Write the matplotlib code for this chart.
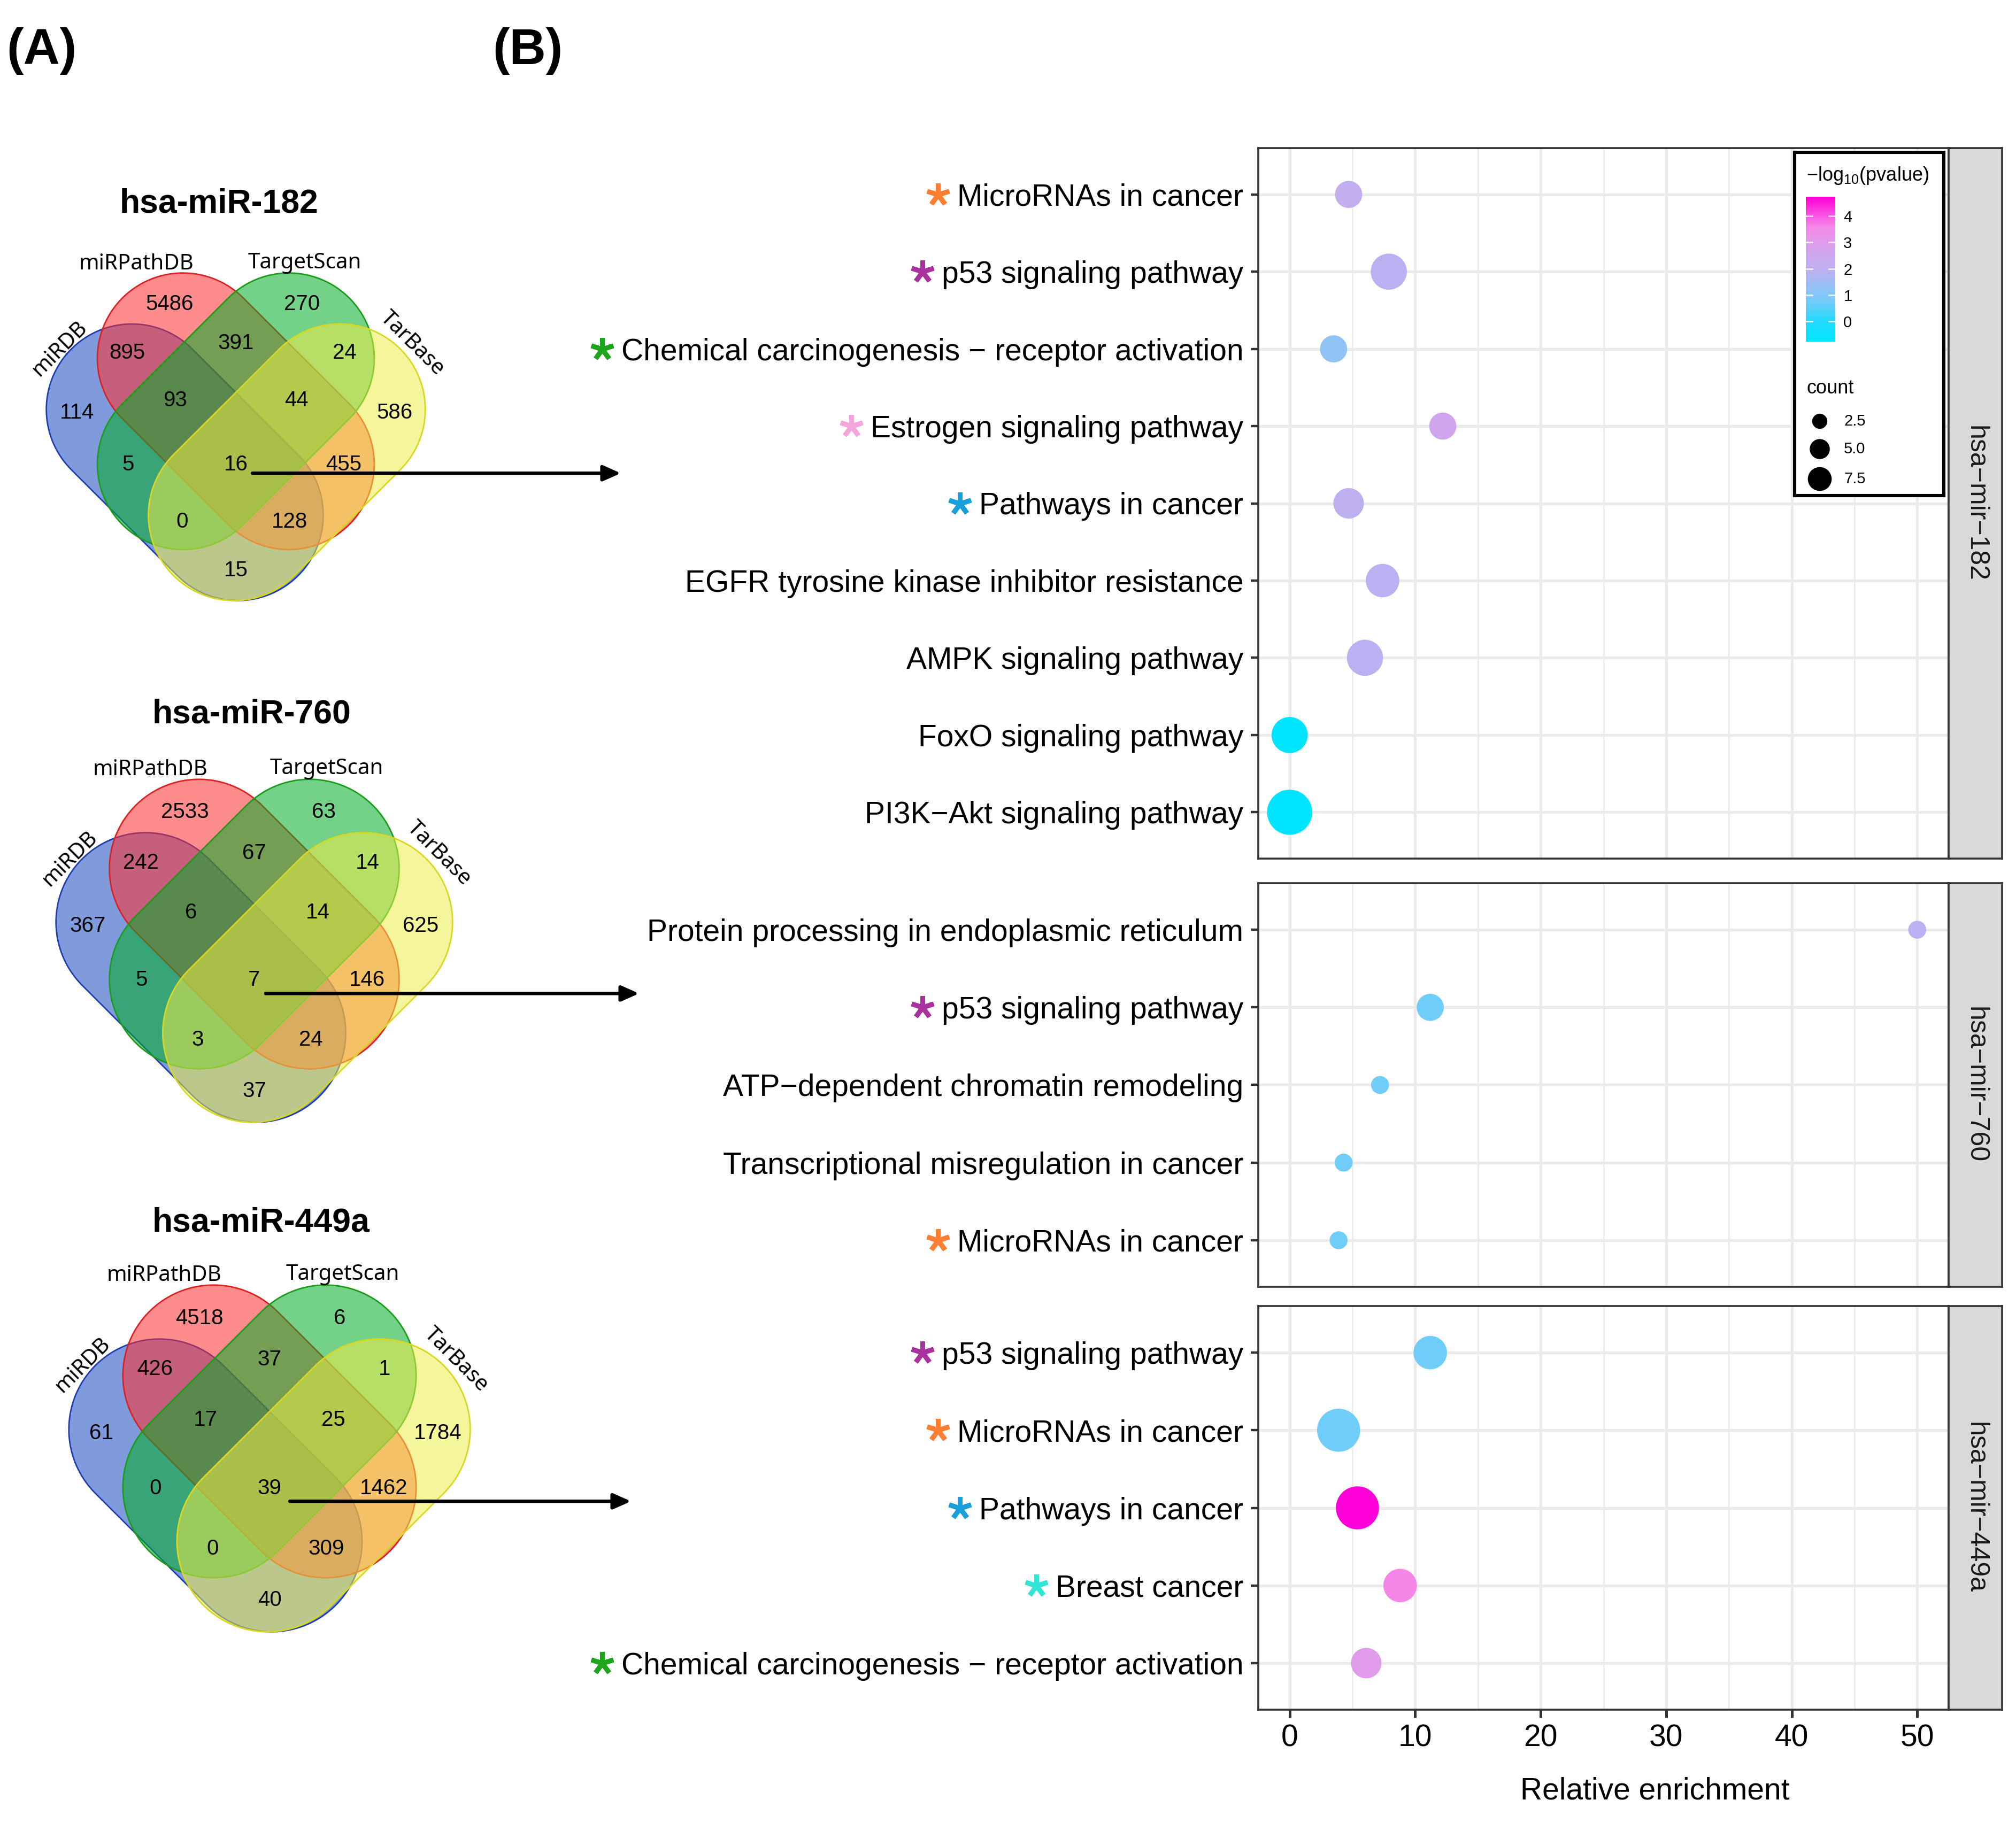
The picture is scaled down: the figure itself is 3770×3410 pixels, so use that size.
import numpy as np
import matplotlib
matplotlib.use("Agg")
import matplotlib.pyplot as plt
from matplotlib.patches import Polygon
from matplotlib.colors import LinearSegmentedColormap, Normalize
from matplotlib.cm import ScalarMappable

W, H, DPI = 3770, 3410, 200
plt.rcParams['font.family'] = ['Liberation Sans', 'DejaVu Sans']
plt.rcParams['mathtext.fontset'] = 'custom'
plt.rcParams['mathtext.rm'] = 'Liberation Sans'
plt.rcParams['mathtext.default'] = 'regular'

# ---------------- panel A: Venn counts ----------------
set_names = ["miRDB", "miRPathDB", "TargetScan", "TarBase"]
venn_titles = ["hsa-miR-182", "hsa-miR-760", "hsa-miR-449a"]
# region order (D=miRDB, P=miRPathDB, T=TargetScan, B=TarBase):
# P, T, DP, PT, TB, D, DPT, PTB, B, DT, DPTB, PB, DTB, DPB, DB
venn_182 = [5486, 270, 895, 391, 24, 114, 93, 44, 586, 5, 16, 455, 0, 128, 15]
venn_760 = [2533, 63, 242, 67, 14, 367, 6, 14, 625, 5, 7, 146, 3, 24, 37]
venn_449a = [4518, 6, 426, 37, 1, 61, 17, 25, 1784, 0, 39, 1462, 0, 309, 40]

# ---------------- panel B: enrichment ----------------
facet_labels = ["hsa\u2212mir\u2212182", "hsa\u2212mir\u2212760", "hsa\u2212mir\u2212449a"]

terms_182 = ["MicroRNAs in cancer", "p53 signaling pathway",
             "Chemical carcinogenesis \u2212 receptor activation", "Estrogen signaling pathway",
             "Pathways in cancer", "EGFR tyrosine kinase inhibitor resistance",
             "AMPK signaling pathway", "FoxO signaling pathway", "PI3K\u2212Akt signaling pathway"]
enrich_182 = [4.7, 7.9, 3.5, 12.2, 4.7, 7.4, 6.0, 0.0, 0.0]
logp_182 = [2.1, 1.9, 1.2, 2.6, 2.0, 1.9, 1.9, -0.75, -0.77]
count_182 = [3, 6, 3, 3, 4, 5, 6, 6, 10]

terms_760 = ["Protein processing in endoplasmic reticulum", "p53 signaling pathway",
             "ATP\u2212dependent chromatin remodeling", "Transcriptional misregulation in cancer",
             "MicroRNAs in cancer"]
enrich_760 = [50.0, 11.2, 7.2, 4.3, 3.9]
logp_760 = [1.9, 0.7, 0.7, 0.7, 0.7]
count_760 = [1, 3, 1, 1, 1]

terms_449a = ["p53 signaling pathway", "MicroRNAs in cancer", "Pathways in cancer",
              "Breast cancer", "Chemical carcinogenesis \u2212 receptor activation"]
enrich_449a = [11.2, 3.9, 5.4, 8.8, 6.1]
logp_449a = [0.7, 0.7, 4.73, 3.6, 3.0]
count_449a = [5, 9, 9, 5, 4]

# starred pathways
star_terms = ["MicroRNAs in cancer", "p53 signaling pathway",
              "Chemical carcinogenesis \u2212 receptor activation", "Estrogen signaling pathway",
              "Pathways in cancer", "Breast cancer"]
star_colors = ["#FF7F32", "#AA329F", "#1EA51E", "#F5A5DC", "#19A0DC", "#32E6D7"]

legend_counts = [2.5, 5.0, 7.5]
cbar_ticks = [0, 1, 2, 3, 4]

# colour scale for -log10(pvalue)
cb_min, cb_max = -0.77, 4.73
cmap_vals = [-0.77, 0.0, 0.7, 1.2, 1.9, 2.1, 2.6, 3.0, 3.6, 4.73]
cmap_cols = ["#00E5FF", "#22DAFF", "#70CCF8", "#8FC4F5", "#BAB0F2", "#C3AEF0",
             "#CEA5EE", "#E19BEB", "#F587E8", "#FF00D8"]
cmap = LinearSegmentedColormap.from_list(
    "pv", [((v - cb_min) / (cb_max - cb_min), c) for v, c in zip(cmap_vals, cmap_cols)])
norm = Normalize(cb_min, cb_max)


def px_rect(x0, y0, x1, y1):
    return [x0 / W, 1 - y1 / H, (x1 - x0) / W, (y1 - y0) / H]


def dot_size(c, scale=1.0):
    d_px = scale * (10 + 23.5 * np.sqrt(np.asarray(c, dtype=float)))
    return (d_px * 72 / DPI) ** 2


def capsule(cx, cy, ang, half_len, rad, n=80):
    th = np.radians(ang)
    u = np.array([np.cos(th), np.sin(th)])
    v = np.array([-np.sin(th), np.cos(th)])
    t1 = np.linspace(-np.pi / 2, np.pi / 2, n)
    t2 = np.linspace(np.pi / 2, 3 * np.pi / 2, n)
    p1 = np.outer(half_len + rad * np.cos(t1), u) + np.outer(rad * np.sin(t1), v)
    p2 = np.outer(-half_len + rad * np.cos(t2), u) + np.outer(rad * np.sin(t2), v)
    return np.vstack([p1, p2]) + [cx, cy]


fig = plt.figure(figsize=(W / DPI, H / DPI), dpi=DPI)

# ---------------- Venn diagrams ----------------
# shape centres / angles in a unit system centred on the miRPathDB shape
ell_geo = [(-0.2, -0.2, 135), (0.0, 0.0, 135), (0.0, 0.0, 45), (0.2, -0.2, 45)]
cap_half, cap_rad = 0.2935, 0.335
ell_fill = ["#1849BF", "#FF2E2E", "#00AD25", "#EDED49"]
ell_edge = ["#1F3FB0", "#E02020", "#1A9E1A", "#D8D820"]
region_xy = [(-0.26, 0.42), (0.26, 0.42), (-0.425, 0.23), (0.0, 0.266), (0.425, 0.23),
             (-0.623, -0.006), (-0.237, 0.043), (0.237, 0.043), (0.623, -0.006),
             (-0.422, -0.21), (0.0, -0.21), (0.422, -0.21),
             (-0.211, -0.434), (0.211, -0.434), (0.0, -0.625)]
setlab_xy = [(-0.69, 0.245, 45), (-0.39, 0.578, 0), (0.27, 0.582, 0), (0.69, 0.265, -45)]
v_xlim = (-0.746, 0.746)
v_ylim = (-0.746, 0.546)

venn_boxes = [(85, 509, 797, 1125), (103, 1456, 848, 2101), (127, 2402, 881, 3054)]
venn_title_xy = [(410, 381), (471, 1336), (488, 2287)]
arrow_start = [(0.065, -0.243), (0.043, -0.26), (0.075, -0.259)]
arrow_end_px = [1161, 1195, 1180]

venn_axes = []
for counts, box in zip([venn_182, venn_760, venn_449a], venn_boxes):
    vax = fig.add_axes(px_rect(*box))
    vax.set_xlim(*v_xlim)
    vax.set_ylim(*v_ylim)
    vax.axis("off")
    for (cx, cy, ang), fc, ec in zip(ell_geo, ell_fill, ell_edge):
        pts = capsule(cx, cy, ang, cap_half, cap_rad)
        vax.add_patch(Polygon(pts, closed=True, facecolor=fc, alpha=0.55,
                              edgecolor="none", clip_on=False))
        vax.add_patch(Polygon(pts, closed=True, facecolor="none",
                              edgecolor=ec, lw=1.0, clip_on=False))
    for (rx, ry), n in zip(region_xy, counts):
        vax.text(rx, ry, str(n), ha="center", va="center", fontsize=14.5)
    for (sx, sy, rot), name in zip(setlab_xy, set_names):
        vax.text(sx, sy, name, ha="center", va="center", rotation=rot, fontsize=14.5,
                 family=["Noto Sans", "DejaVu Sans"])
    venn_axes.append(vax)

# overlay in pixel coordinates for panel letters / titles
ov = fig.add_axes([0, 0, 1, 1], facecolor="none")
ov.set_xlim(0, W)
ov.set_ylim(H, 0)
ov.axis("off")
ov.text(12, 96, "(A)", fontsize=34, fontweight="bold", ha="left", va="center")
ov.text(921, 96, "(B)", fontsize=34, fontweight="bold", ha="left", va="center")
for t, (tx, ty) in zip(venn_titles, venn_title_xy):
    ov.text(tx, ty, t, fontsize=22.5, fontweight="bold", ha="center", va="center")

for vax, box, st, ex in zip(venn_axes, venn_boxes, arrow_start, arrow_end_px):
    ux_end = v_xlim[0] + (ex - box[0]) / (box[2] - box[0]) * (v_xlim[1] - v_xlim[0])
    vax.annotate("", xy=(ux_end, st[1]), xytext=st, xycoords="data", textcoords="data",
                 annotation_clip=False,
                 arrowprops=dict(arrowstyle="-|>,head_length=0.45,head_width=0.2",
                                 color="black", lw=2.3, shrinkA=0, shrinkB=0,
                                 mutation_scale=22))

# ---------------- dot plot ----------------
panel_boxes = [(2353, 277, 3644, 1606), (2353, 1652, 3644, 2407), (2353, 2443, 3644, 3198)]
panel_data = [(terms_182, enrich_182, logp_182, count_182),
              (terms_760, enrich_760, logp_760, count_760),
              (terms_449a, enrich_449a, logp_449a, count_449a)]

axes = []
for i, (box, (terms, enr, lp, cnt), flab) in enumerate(zip(panel_boxes, panel_data, facet_labels)):
    ax = fig.add_axes(px_rect(*box))
    n = len(terms)
    ypos = np.arange(n)[::-1]
    ax.set_xlim(-2.5, 52.5)
    ax.set_ylim(-0.6, n - 0.4)
    ax.set_xticks(np.arange(0, 51, 10))
    ax.set_xticks(np.arange(5, 51, 10), minor=True)
    ax.grid(which="major", color="#EBEBEB", lw=1.9)
    ax.grid(which="minor", axis="x", color="#EBEBEB", lw=1.0)
    ax.set_axisbelow(True)
    ax.scatter(enr, ypos, s=dot_size(cnt), c=lp, cmap=cmap, norm=norm, linewidths=0, zorder=3)
    ax.set_yticks(ypos)
    ax.set_yticklabels(terms, fontsize=20.5)
    ax.tick_params(axis="y", length=5, width=1.6, color="#333333", pad=5)
    ax.tick_params(axis="x", which="minor", length=0)
    if i == 2:
        ax.tick_params(axis="x", which="major", length=5.5, width=1.8, color="#333333",
                       labelsize=20.5, pad=4)
    else:
        ax.tick_params(axis="x", which="major", length=0, labelbottom=False)
    for sp in ax.spines.values():
        sp.set_color("#333333")
        sp.set_linewidth(1.3)
    sax = fig.add_axes(px_rect(3644, box[1], 3744, box[3]))
    sax.set_facecolor("#D9D9D9")
    sax.set_xticks([])
    sax.set_yticks([])
    for sp in sax.spines.values():
        sp.set_color("#333333")
        sp.set_linewidth(1.3)
    sax.text(0.5, 0.5, flab, rotation=-90, ha="center", va="center", fontsize=18,
             color="#1A1A1A", transform=sax.transAxes)
    axes.append(ax)

fig.text(3095 / W, 1 - 3350 / H, "Relative enrichment", ha="center", va="center", fontsize=20.5)

# ---------------- legend ----------------
lax = fig.add_axes(px_rect(3356, 285, 3635, 927))
lax.set_xlim(3356, 3635)
lax.set_ylim(927, 285)
lax.set_xticks([])
lax.set_yticks([])
lax.set_facecolor("white")
for sp in lax.spines.values():
    sp.set_color("black")
    sp.set_linewidth(2.2)
lax.text(3378, 329, "\u2212log$_{10}$(pvalue)", fontsize=13, ha="left", va="center")
lax.text(3378, 727, "count", fontsize=13, ha="left", va="center")
leg_y = [788, 840, 896]
lax.scatter([3403] * len(legend_counts), leg_y, s=dot_size(legend_counts, 0.6),
            color="black", linewidths=0)
for yy, c in zip(leg_y, legend_counts):
    lax.text(3448, yy, f"{c:.1f}", fontsize=10.5, ha="left", va="center")

cax = fig.add_axes(px_rect(3377, 368, 3432, 639))
cb = fig.colorbar(ScalarMappable(norm=norm, cmap=cmap), cax=cax)
cb.outline.set_visible(False)
cb.set_ticks(cbar_ticks)
cax.tick_params(length=0, labelsize=10.5, pad=5.5)
for t in cbar_ticks:
    cax.plot([0, 0.22], [t, t], color="white", lw=1.0, alpha=0.8)
    cax.plot([0.78, 1], [t, t], color="white", lw=1.0, alpha=0.8)

# ---------------- stars in front of highlighted labels ----------------
fig.canvas.draw()
for ax in axes:
    for lab in ax.get_yticklabels():
        txt = lab.get_text()
        if txt in star_terms:
            col = star_colors[star_terms.index(txt)]
            bb = lab.get_window_extent()
            xa = ax.transAxes.inverted().transform((bb.x0 - 36, 0))[0]
            ax.plot([xa], [lab.get_position()[1]], marker=(5, 2, 0), markersize=15.5,
                    mew=3.2, color=col, transform=ax.get_yaxis_transform(), clip_on=False)

fig.savefig("out.png", dpi=DPI)
